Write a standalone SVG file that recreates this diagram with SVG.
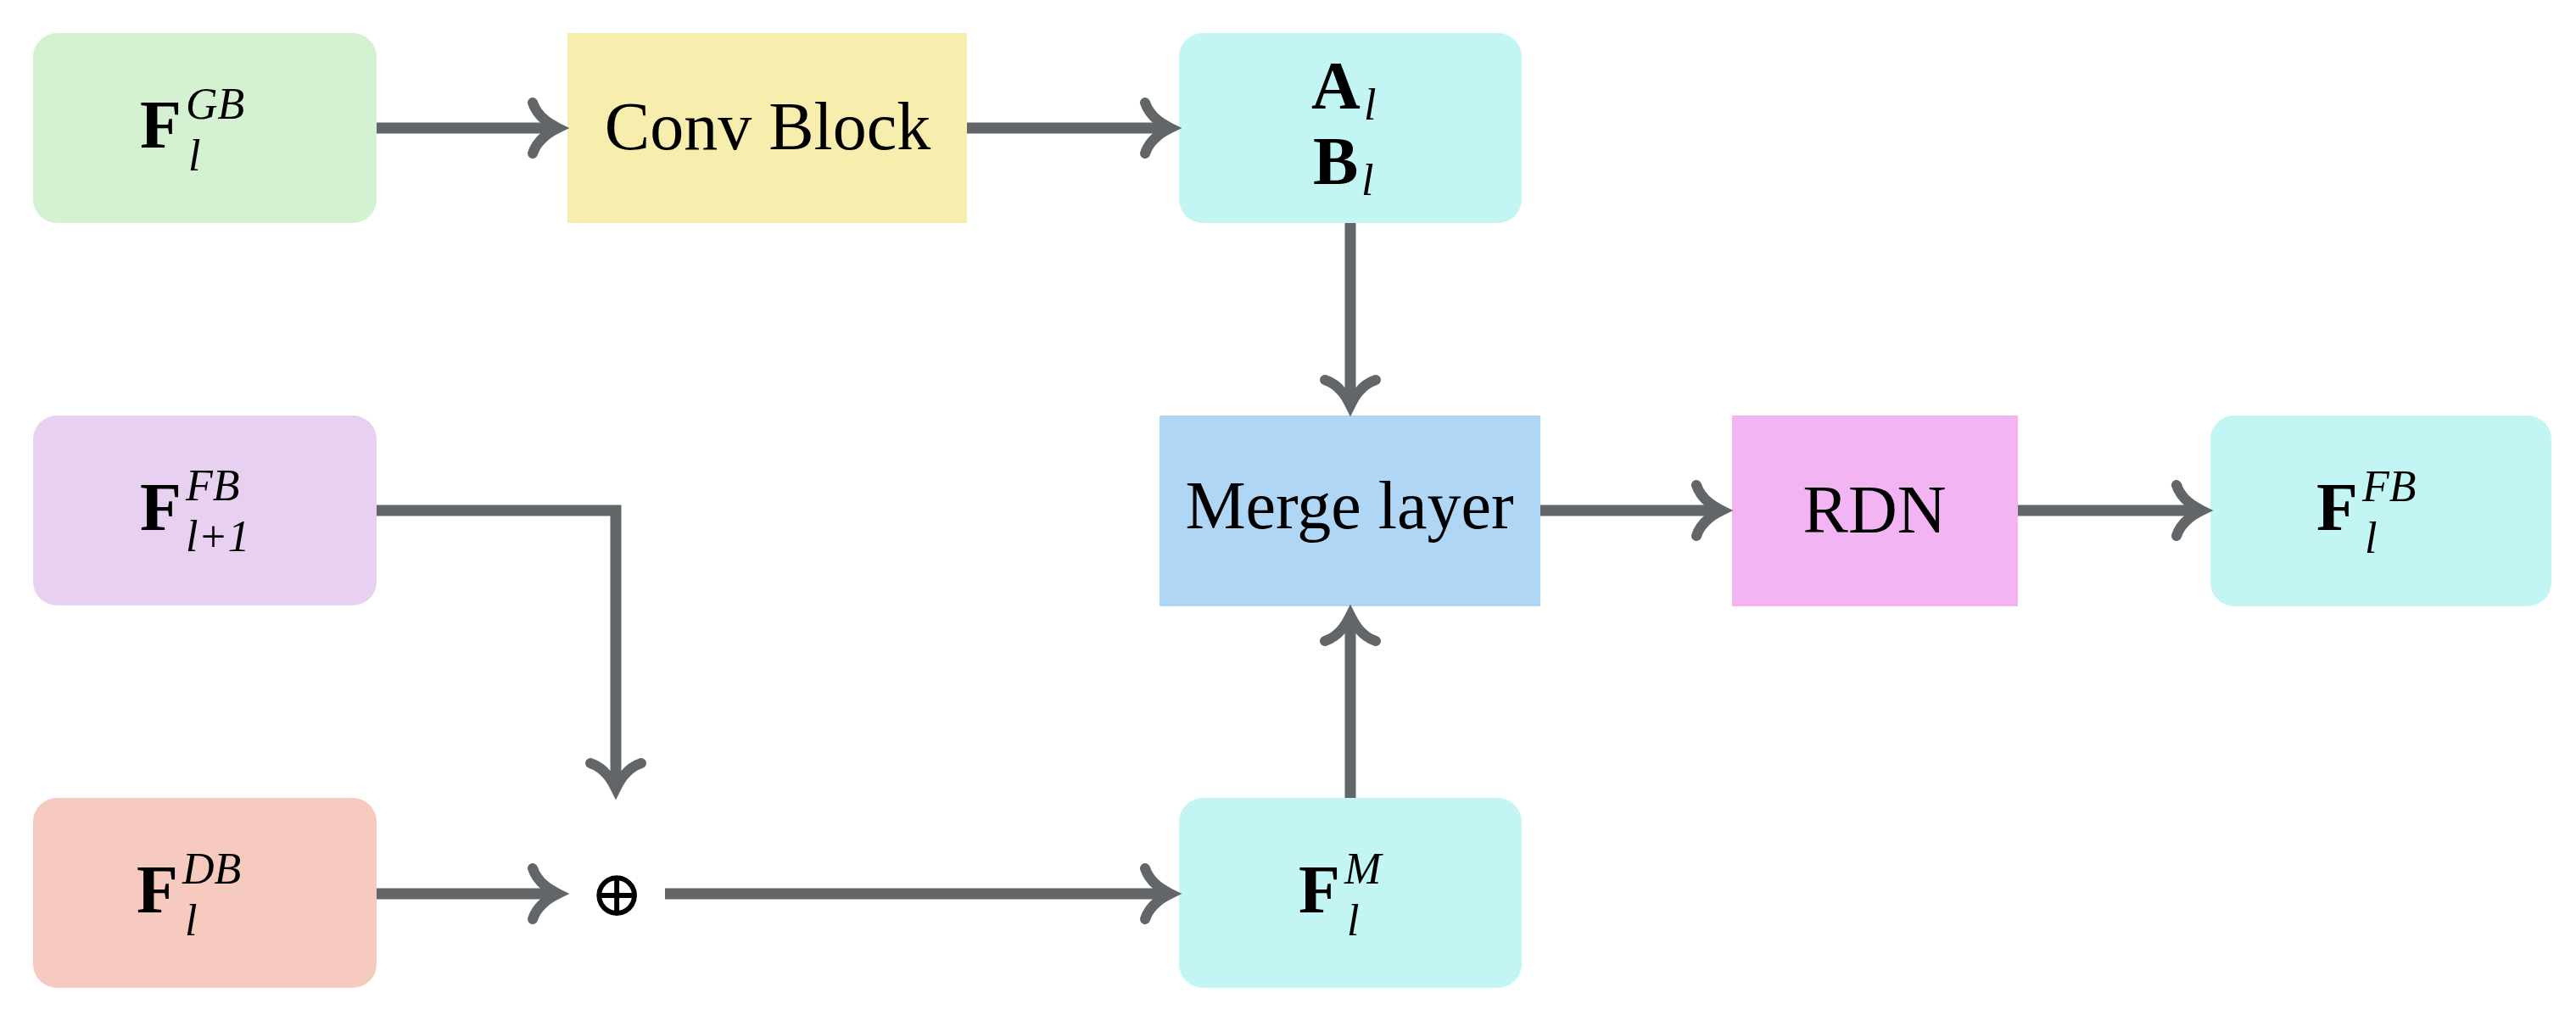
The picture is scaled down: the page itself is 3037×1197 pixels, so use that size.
<svg xmlns="http://www.w3.org/2000/svg" width="3037" height="1197" viewBox="0 0 3037 1197">
<style>
.t{font-family:"Liberation Serif",serif;font-size:80px;fill:#000}
.b{font-family:"Liberation Serif",serif;font-size:80px;font-weight:bold;fill:#000}
.s{font-family:"Liberation Serif",serif;font-size:52px;font-style:italic;fill:#000}
.sr{font-family:"Liberation Serif",serif;font-size:52px;fill:#000}
.c{stroke:#636669;stroke-width:13;fill:none}
</style>
<defs>
<marker id="ah" markerUnits="userSpaceOnUse" markerWidth="90" markerHeight="90" viewBox="-45 -45 90 90" refX="0" refY="0" orient="auto">
<path d="M-30,-30 C-24,-12 -8,-4 0,0 C-8,4 -24,12 -30,30" stroke="#636669" stroke-width="12" fill="none" stroke-linecap="round"/>
</marker>
</defs>
<g id="n-gb"><rect x="39" y="39" width="405" height="224" rx="28" fill="#d4f1d1"/>
<text class="b" x="165" y="174">F</text><text class="s" x="219" y="140">GB</text><text class="s" x="222" y="201">l</text></g>
<g id="n-conv"><rect x="669" y="39" width="471" height="224" fill="#f7eeae"/>
<text class="t" x="905" y="176" text-anchor="middle">Conv Block</text></g>
<g id="n-ab"><rect x="1390" y="39" width="404" height="224" rx="28" fill="#c2f5f3"/>
<text class="b" x="1546" y="128">A</text><text class="s" x="1608" y="141">l</text>
<text class="b" x="1548" y="217">B</text><text class="s" x="1605" y="230">l</text></g>
<g id="n-fb1"><rect x="39" y="490" width="405" height="224" rx="28" fill="#e8d0f1"/>
<text class="b" x="165" y="625">F</text><text class="s" x="219" y="590">FB</text><text class="s" x="219" y="650">l<tspan class="sr">+1</tspan></text></g>
<g id="n-merge"><rect x="1367" y="490" width="449" height="225" fill="#b0d6f5"/>
<text class="t" x="1591" y="623" text-anchor="middle">Merge layer</text></g>
<g id="n-rdn"><rect x="2042" y="490" width="337" height="225" fill="#f2b4f2"/>
<text class="t" x="2210" y="628" text-anchor="middle">RDN</text></g>
<g id="n-out"><rect x="2606" y="490" width="402" height="225" rx="28" fill="#c2f5f3"/>
<text class="b" x="2731" y="625">F</text><text class="s" x="2785" y="591">FB</text><text class="s" x="2788" y="652">l</text></g>
<g id="n-db"><rect x="39" y="941" width="405" height="224" rx="28" fill="#f7cabf"/>
<text class="b" x="161" y="1076">F</text><text class="s" x="215" y="1042">DB</text><text class="s" x="218" y="1103">l</text></g>
<g id="n-plus"><text x="727" y="1080" text-anchor="middle" style="font-family:'DejaVu Serif',serif;font-size:76px">⊕</text></g>
<g id="n-m"><rect x="1390" y="941" width="404" height="224" rx="28" fill="#c2f5f3"/>
<text class="b" x="1531" y="1076">F</text><text class="s" x="1585" y="1042">M</text><text class="s" x="1588" y="1103">l</text></g>
<g id="connectors">
<path class="c" d="M444,151 H658" marker-end="url(#ah)"/>
<path class="c" d="M1140,151 H1380" marker-end="url(#ah)"/>
<path class="c" d="M1592,263 V478" marker-end="url(#ah)"/>
<path class="c" d="M444,602 H726 V930" marker-end="url(#ah)"/>
<path class="c" d="M444,1054 H658" marker-end="url(#ah)"/>
<path class="c" d="M784,1054 H1380" marker-end="url(#ah)"/>
<path class="c" d="M1592,941 V726" marker-end="url(#ah)"/>
<path class="c" d="M1816,602 H2030" marker-end="url(#ah)"/>
<path class="c" d="M2379,602 H2596" marker-end="url(#ah)"/>
</g>
</svg>
